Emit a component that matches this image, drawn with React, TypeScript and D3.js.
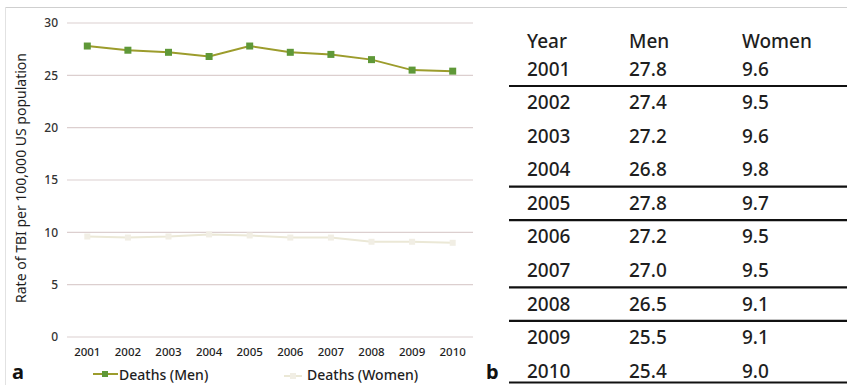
import React from "react";
import * as d3 from "d3";

// Annual TBI death rates per 100,000 US population
const years = [2001, 2002, 2003, 2004, 2005, 2006, 2007, 2008, 2009, 2010];
const men = [27.8, 27.4, 27.2, 26.8, 27.8, 27.2, 27.0, 26.5, 25.5, 25.4];
const women = [9.6, 9.5, 9.6, 9.8, 9.7, 9.5, 9.5, 9.1, 9.1, 9.0];
const yTicks = [0, 5, 10, 15, 20, 25, 30];
const tableHeaders = ["Year", "Men", "Women"];
// Rows of the table that are followed by a horizontal rule
const ruledAfter = [2001, 2004, 2005, 2007, 2008, 2010];

const W = 847;
const H = 385;
const FONT = "'Noto Sans', 'Open Sans', sans-serif";

export default function App() {
  const x = d3.scalePoint<number>().domain(years).range([67, 473]).padding(0.5);
  const y = d3.scaleLinear().domain([0, 30]).range([337, 23]);

  const seriesLine = d3
    .line<number>()
    .x((_, i) => x(years[i]) as number)
    .y((d) => y(d));

  const rowY = d3.scalePoint<number>().domain(years).range([69, 371]);
  const colX = [527, 629, 742];

  const menColor = "#9c9c2c";
  const markerColor = "#5f9838";
  const womenColor = "#ebe8d6";
  const textColor = "#1e1e1e";

  return (
    <svg
      width={W}
      height={H}
      style={{ position: "absolute", left: 0, top: 0, background: "#fff" }}
      fontFamily={FONT}
    >
      {/* frame */}
      <line x1={5} x2={W} y1={7.5} y2={7.5} stroke="#cfcfcf" strokeWidth={1} />
      <line x1={5.5} x2={5.5} y1={7} y2={H} stroke="#e2e2e2" strokeWidth={1} />

      {/* panel a: gridlines and y ticks */}
      {yTicks.map((t) => (
        <g key={t}>
          <line x1={67} x2={473} y1={y(t)} y2={y(t)} stroke="#dccfcf" strokeWidth={1.2} />
          <text x={58} y={y(t)} dy="0.35em" textAnchor="end" fontSize={12} fontWeight={500} fill="#333">
            {t}
          </text>
        </g>
      ))}

      {/* x tick labels */}
      {years.map((yr) => (
        <text key={yr} x={x(yr)} y={356} textAnchor="middle" fontSize={11.5} fontWeight={500} fill={textColor}>
          {yr}
        </text>
      ))}

      {/* y axis title */}
      <text
        transform="translate(26,178) rotate(-90)"
        textAnchor="middle"
        fontSize={14}
        fill={textColor}
      >
        Rate of TBI per 100,000 US population
      </text>

      {/* women series */}
      <path d={seriesLine(women) || ""} fill="none" stroke={womenColor} strokeWidth={2} />
      {women.map((v, i) => (
        <rect
          key={i}
          x={(x(years[i]) as number) - 3}
          y={y(v) - 3}
          width={6}
          height={6}
          fill="#f1eee4"
        />
      ))}

      {/* men series */}
      <path d={seriesLine(men) || ""} fill="none" stroke={menColor} strokeWidth={2} />
      {men.map((v, i) => (
        <rect
          key={i}
          x={(x(years[i]) as number) - 3.5}
          y={y(v) - 3.5}
          width={7}
          height={7}
          fill={markerColor}
        />
      ))}

      {/* legend */}
      <line x1={93} x2={118} y1={374} y2={374} stroke={menColor} strokeWidth={2} />
      <rect x={102} y={371} width={6} height={6} fill={markerColor} />
      <text x={119} y={380} fontSize={14} fontWeight={500} fill={textColor}>
        Deaths (Men)
      </text>
      <line x1={284} x2={302} y1={376} y2={376} stroke={womenColor} strokeWidth={2} />
      <rect x={290} y={373} width={6} height={6} fill="#f1eee4" />
      <text x={307} y={380} fontSize={14} fontWeight={500} fill={textColor}>
        Deaths (Women)
      </text>

      {/* panel letters */}
      <text x={12} y={379} fontSize={20} fontWeight="bold" fill="#111">
        a
      </text>
      <text x={486} y={379} fontSize={20} fontWeight="bold" fill="#111">
        b
      </text>

      {/* panel b: table */}
      {tableHeaders.map((h, j) => (
        <text key={h} x={colX[j]} y={41} dy="0.35em" fontSize={19} fontWeight={500} fill={textColor}>
          {h}
        </text>
      ))}
      {years.map((yr, i) => (
        <g key={yr} fontSize={19} fontWeight={500} fill={textColor}>
          <text x={colX[0]} y={rowY(yr)} dy="0.35em">
            {yr}
          </text>
          <text x={colX[1]} y={rowY(yr)} dy="0.35em">
            {men[i].toFixed(1)}
          </text>
          <text x={colX[2]} y={rowY(yr)} dy="0.35em">
            {women[i].toFixed(1)}
          </text>
        </g>
      ))}
      {ruledAfter.map((yr) => {
        const yy = Math.min((rowY(yr) as number) + 17, 382.5);
        return <line key={yr} x1={509} x2={W} y1={yy} y2={yy} stroke="#111" strokeWidth={2.2} />;
      })}
    </svg>
  );
}
